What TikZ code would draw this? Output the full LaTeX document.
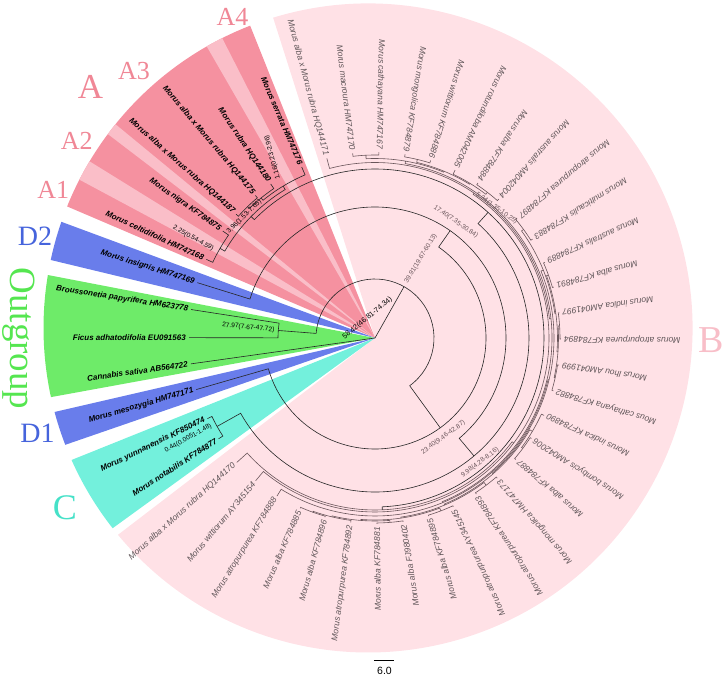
\documentclass[tikz,border=0pt]{standalone}
\usepackage{fontspec}
\setsansfont{Liberation Sans}
\newfontfamily\cladefont{Liberation Serif}
\usetikzlibrary{calc}

\definecolor{cladeB}{RGB}{255,225,230}
\definecolor{cladeA}{RGB}{245,145,160}
\definecolor{cladeAlt}{RGB}{250,190,200}
\definecolor{cladeD}{RGB}{105,125,235}
\definecolor{cladeO}{RGB}{110,235,105}
\definecolor{cladeC}{RGB}{115,240,220}
\definecolor{textA}{RGB}{240,135,150}
\definecolor{textB}{RGB}{248,190,200}
\definecolor{textC}{RGB}{70,225,200}
\definecolor{textD}{RGB}{70,100,220}
\definecolor{textO}{RGB}{85,230,80}
\definecolor{treeB}{RGB}{105,85,90}
\definecolor{leafgray}{RGB}{95,85,88}

% tips and clades of the polar tree: angle and radius kept per name
\newcommand\treetip[2]{%
  \expandafter\xdef\csname tang-#1\endcsname{#2}%
  \expandafter\xdef\csname trad-#1\endcsname{186}}
\newcommand\treeclade[5][]{%
  \edef\cla{\csname tang-#3\endcsname}%
  \edef\clb{\csname tang-#4\endcsname}%
  \edef\clra{\csname trad-#3\endcsname}%
  \edef\clrb{\csname trad-#4\endcsname}%
  \if\relax\detokenize{#1}\relax\pgfmathsetmacro\clm{(\cla+\clb)/2}\else\def\clm{#1}\fi
  \expandafter\xdef\csname tang-#2\endcsname{\clm}%
  \expandafter\xdef\csname trad-#2\endcsname{#5}%
  \draw[\curbranch] (\cla:\clra) -- (\cla:#5) arc[start angle=\cla, end angle=\clb, radius=#5] -- (\clb:\clrb);}
\newcommand\cladewedge[3]{%
  \fill[#1] (0,0) -- ($(wc)+(#2:324.5)$) arc[start angle=#2, end angle=#3, radius=324.5] -- cycle;}
\def\curbranch{branch}

\begin{document}
\begin{tikzpicture}[x=1pt, y=1pt,
    branch/.style={black!85, line width=0.6pt},
    bbranch/.style={treeB, line width=0.6pt},
    leafB/.style={font=\sffamily\itshape\fontsize{8.5}{9}\selectfont, text=leafgray, inner sep=1pt, anchor=east},
    leaf/.style={font=\sffamily\bfseries\itshape\fontsize{8}{9}\selectfont, inner sep=1pt, anchor=east},
    age/.style={font=\sffamily\fontsize{6.6}{7}\selectfont, inner sep=0pt},
    clade/.style={font=\cladefont\fontsize{#1}{#1}\selectfont, inner sep=0pt}
]
\useasboundingbox (-375,-338) rectangle (351,338);
\coordinate (wc) at (-7,10);

% clade wedges
\cladewedge{cladeB}{107}{-140.4}
\cladewedge{cladeA}{111.3}{158}
\cladewedge{cladeAlt}{116.7}{119.8}
\cladewedge{cladeAlt}{141.1}{143.3}
\cladewedge{cladeAlt}{149.1}{152.8}
\cladewedge{cladeD}{160.9}{167.9}
\cladewedge{cladeO}{170.6}{192.3}
\cladewedge{cladeD}{195}{201.1}
\cladewedge{cladeC}{204}{218.1}

% clade B tips
\foreach \lbl [count=\i] in {Morus alba x Morus rubra HQ144171, Morus macroura HM747170,
    Morus cathayana HM747167, Morus mongolica KF784879, Morus wittiorum KF784886,
    Morus rotundiloba AM042005, Morus alba KF784884, Morus australis AM042004,
    Morus atropurpurea KF784897, Morus multicaulis KF784883, Morus australis KF784889,
    Morus alba KF784891, Morus indica AM041997, Morus atropurpurea KF784894,
    Morus lhou AM041999, Mous cathayana KF784882, Morus indica KF784890,
    Morus bombycis AM042006, Morus alba KF784887, Morus mongolica HM747173,
    Morus atropurpurea KF784893, Morus atropurpurea AY345145, Morus alba KF784895,
    Morus alba FJ980402, Morus alba KF784881, Morus atropurpurea KF784892,
    Morus alba KF784896, Morus alba KF784885, Morus atropurpurea KF784888,
    Morus wittiorum AY345154, Morus alba x Morus rubra HQ144170}
{
  \pgfmathsetmacro\ang{105-8.1*(\i-1)}
  \treetip{b\i}{\ang}
  \node[leafB, rotate=\ang+180] (lb\i) at (\ang:188) {\lbl};
}

% clades A, C, D and outgroup tips
\foreach \ang/\lbl [count=\i] in {113.2/Morus serrata HM747176, 124.1/Morus rubra HQ144180,
    130/Morus alba x Morus rubra HQ144175, 138.3/Morus alba x Morus rubra HQ144187,
    144.9/Morus nigra KF784875, 155/Morus celtidifolia HM747168, 162.7/Morus insignis HM747169,
    171.2/Broussonetia papyrifera HM623778, 179.9/Ficus adhatodifolia EU091563,
    188/Cannabis sativa AB564722, -163.9/Morus mesozygia HM747171,
    -154.3/Morus yunnanensis KF850474, -147.2/Morus notabilis KF784877}
{
  \treetip{o\i}{\ang}
  \node[leaf, rotate=\ang+180] (lo\i) at (\ang:188) {\lbl};
}

% clade B
\def\curbranch{bbranch}
\treeclade{n2-3}{b2}{b3}{183}
\treeclade{n4-5}{b4}{b5}{183.5}
\treeclade{n7-8}{b7}{b8}{184}
\treeclade{n6-8}{b6}{n7-8}{181.5}
\treeclade{n4-8}{n4-5}{n6-8}{180.5}
\treeclade{n2-8}{n2-3}{n4-8}{179.5}
\treeclade{n9-10}{b9}{b10}{184}
\treeclade{n11-12}{b11}{b12}{184.5}
\treeclade{n13-14}{b13}{b14}{185}
\treeclade{n15-16}{b15}{b16}{184.5}
\treeclade{n13-16}{n13-14}{n15-16}{183.5}
\treeclade{n11-16}{n11-12}{n13-16}{182.5}
\treeclade{n9-16}{n9-10}{n11-16}{181.5}
\treeclade{n18-19}{b18}{b19}{184.5}
\treeclade{n17-19}{b17}{n18-19}{183}
\treeclade{n20-21}{b20}{b21}{184.5}
\treeclade{n22-23}{b22}{b23}{185}
\treeclade{n24-25}{b24}{b25}{185}
\treeclade{n27-28}{b27}{b28}{185}
\treeclade{n26-28}{b26}{n27-28}{184}
\treeclade{n24-28}{n24-25}{n26-28}{183}
\treeclade{n22-28}{n22-23}{n24-28}{182}
\treeclade{n20-28}{n20-21}{n22-28}{181}
\treeclade{n17-28}{n17-19}{n20-28}{180}
\treeclade{n9-28}{n9-16}{n17-28}{179}
\treeclade{n9-29}{n9-28}{b29}{178}
\treeclade{n2-29}{n2-8}{n9-29}{177}
\treeclade{n1-29}{b1}{n2-29}{175.5}
\treeclade{n1-30}{n1-29}{b30}{174}
\treeclade{cB}{n1-30}{b31}{172}

% clade A, C, outgroup and the spine
\def\curbranch{branch}
\treeclade{a3-4}{o3}{o4}{183}
\treeclade{a2-4}{o2}{a3-4}{180.5}
\treeclade{a1-4}{o1}{a2-4}{177.5}
\treeclade{a5-6}{o5}{o6}{179}
\treeclade{cA}{a1-4}{a5-6}{173.5}
\treeclade{cC}{o12}{o13}{181}
\treeclade{cO}{o8}{o9}{97}
\treeclade[48]{cU}{cA}{cB}{169}
\treeclade[-50]{cV}{cC}{cU}{154}
\treeclade[55]{cW}{cV}{o7}{131}
\treeclade[-54]{cM}{o11}{cW}{111}
\treeclade[60.5]{cX}{cM}{cO}{59}
\draw[branch] (0,0) -- (60.5:59);
\draw[branch] (0,0) -- (188:186);

% node ages
\node[age, rotate=39.6] (t1) at (-7.5,19.7) {\fontsize{7.3}{8}\selectfont 58.42(46.81-74.34)};
\node[age, text=treeB, rotate=58.8] (t2) at (45.8,79.7) {39.91(19.67-60.13)};
\node[age, text=treeB, rotate=-35] (t3) at (80.8,116.3) {17.40(7.35-30.84)};
\node[age, text=treeB, rotate=36] (t4) at (68.3,-99.5) {23.40(9.46-42.87)};
\node[age, text=treeB, rotate=37] (t5) at (105,-124.5) {9.98(4.28-8.16)};
\node[age, text=treeB, rotate=-35] (t6) at (121.7,129.7) {5.34(1.35-10.25)};
\node[age, rotate=-5.5] (t7) at (-126.7,10.5) {27.97(7.67-47.72)};
\node[age, rotate=-29] (t8) at (-181.7,99.7) {2.25(0.54-4.59)};
\node[age, rotate=44] (t9) at (-130.8,121.3) {3.96(1.53-7.65)};
\node[age, rotate=105] (t10) at (-102.5,180.5) {1.16(0.23-2.96)};
\node[age, rotate=29] (t11) at (-186.7,-100.3) {0.44(0.0051-1.48)};

% clade letters
\node[clade=35, text=textA] (labA) at (-284.5,251.5) {A};
\node[clade=26, text=textA] (labA1) at (-321.7,148) {A1};
\node[clade=26, text=textA] (labA2) at (-298.3,197.2) {A2};
\node[clade=26, text=textA] (labA3) at (-241,266.5) {A3};
\node[clade=26, text=textA] (labA4) at (-142.5,320.8) {A4};
\node[clade=38, text=textB] (labB) at (336,-2) {B};
\node[clade=36, text=textC] (labC) at (-310,-169.5) {C};
\node[clade=28, text=textD] (labD1) at (-337.5,-95.3) {D1};
\node[clade=28, text=textD] (labD2) at (-340,101.3) {D2};
\node[clade=37, text=textO, rotate=-90] (labO) at (-356.5,-0.5) {Outgroup};

% scale bar
\coordinate (sb1) at (-1,-322);
\coordinate (sb2) at (19,-322);
\draw[black, line width=0.8pt] (sb1) -- (sb2);
\node[font=\sffamily\fontsize{10.5}{12}\selectfont, inner sep=0pt] (sbl) at (9.5,-333) {6.0};
\end{tikzpicture}
\end{document}
